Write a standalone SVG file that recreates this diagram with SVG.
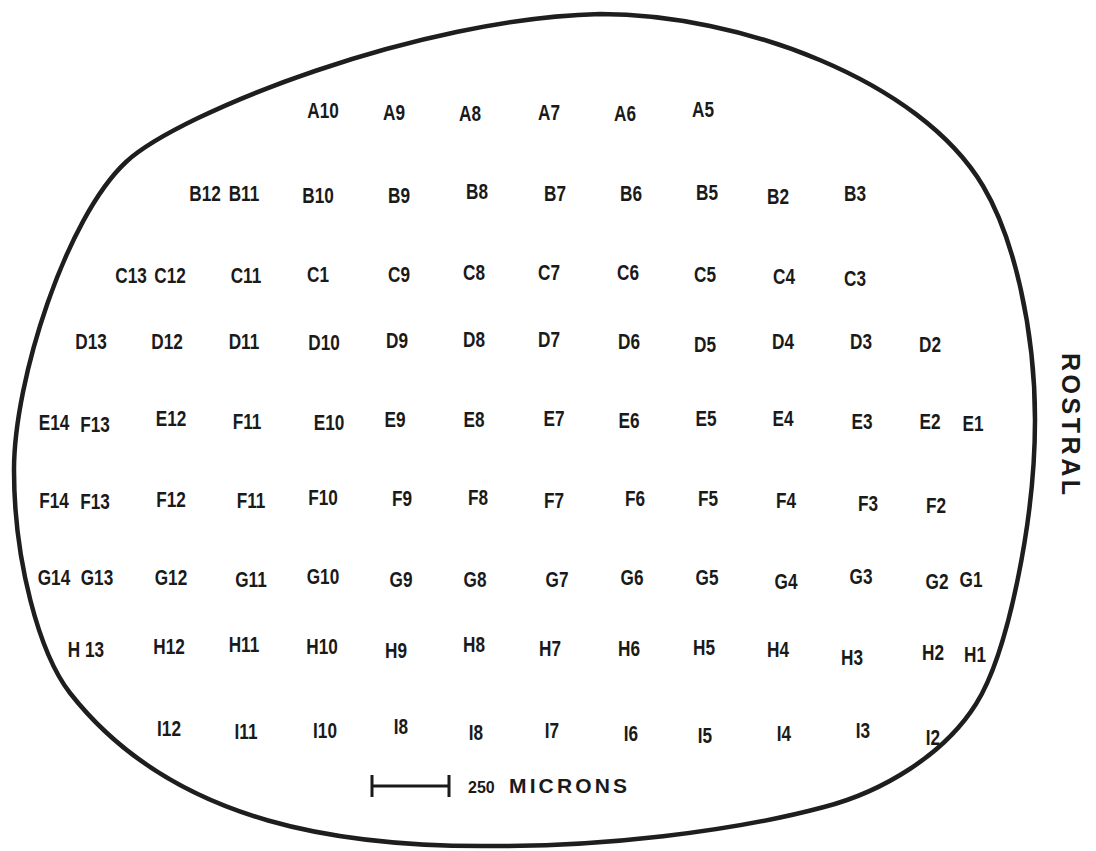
<svg xmlns="http://www.w3.org/2000/svg" width="1096" height="851" viewBox="0 0 1096 851">
<style>
.bg{fill:#fff}
.outline{fill:none;stroke:#1e1e1e;stroke-width:4.5;stroke-linejoin:round}
.lb{font-family:"Liberation Sans","DejaVu Sans",sans-serif;font-weight:bold;font-size:21.5px;fill:#1a1a1a;text-anchor:middle}
.bar{stroke:#1a1a1a;stroke-width:3;fill:none}
.cap{font-family:"Liberation Sans","DejaVu Sans",sans-serif;font-weight:bold;fill:#1a1a1a}
</style>
<rect class="bg" x="0" y="0" width="1096" height="851"/>
<g id="outline">
<path class="outline" d="M600,14 C740,14 920,80 983,186 C1014,238 1035,330 1035,420 C1035,520 1008,653 976,704 C944,755 882,792 824,807 C727,833 600,846 500,846 C350,848 175,827 70,693 C39,653 14,560 14,470 C14,380 66,218 126,162 C180,112 420,18 600,14 Z"/>
</g>
<g id="row-A" class="lb" transform="scale(0.8,1)">
<text x="403.75" y="118">A10</text><text x="492.5" y="120">A9</text><text x="587.5" y="121">A8</text><text x="686.25" y="120">A7</text><text x="781.25" y="121">A6</text><text x="878.75" y="117">A5</text>
</g>
<g id="row-B" class="lb" transform="scale(0.8,1)">
<text x="256.25" y="201">B12</text><text x="305" y="201">B11</text><text x="397.5" y="203">B10</text><text x="498.75" y="203">B9</text><text x="596.25" y="199">B8</text><text x="693.75" y="201">B7</text><text x="788.75" y="201">B6</text><text x="883.75" y="200">B5</text><text x="972.5" y="204">B2</text><text x="1068.75" y="201">B3</text>
</g>
<g id="row-C" class="lb" transform="scale(0.8,1)">
<text x="163.75" y="283">C13</text><text x="212.5" y="283">C12</text><text x="307.5" y="283">C11</text><text x="397.5" y="282">C1</text><text x="498.75" y="282">C9</text><text x="592.5" y="280">C8</text><text x="686.25" y="280">C7</text><text x="785" y="280">C6</text><text x="881.25" y="282">C5</text><text x="980" y="284">C4</text><text x="1068.75" y="286">C3</text>
</g>
<g id="row-D" class="lb" transform="scale(0.8,1)">
<text x="113.75" y="349">D13</text><text x="208.75" y="349">D12</text><text x="305" y="349">D11</text><text x="405" y="350">D10</text><text x="496.25" y="348">D9</text><text x="592.5" y="347">D8</text><text x="686.25" y="347">D7</text><text x="786.25" y="349">D6</text><text x="881.25" y="352">D5</text><text x="978.75" y="349">D4</text><text x="1076.25" y="349">D3</text><text x="1162.5" y="352">D2</text>
</g>
<g id="row-E" class="lb" transform="scale(0.8,1)">
<text x="67.5" y="430">E14</text><text x="118.75" y="432">F13</text><text x="213.75" y="426">E12</text><text x="308.75" y="429">F11</text><text x="411.25" y="430">E10</text><text x="493.75" y="427">E9</text><text x="592.5" y="427">E8</text><text x="692.5" y="426">E7</text><text x="786.25" y="428">E6</text><text x="882.5" y="426">E5</text><text x="978.75" y="426">E4</text><text x="1077.5" y="429">E3</text><text x="1162.5" y="429">E2</text><text x="1216.25" y="431">E1</text>
</g>
<g id="row-F" class="lb" transform="scale(0.8,1)">
<text x="67.5" y="508">F14</text><text x="118.75" y="509">F13</text><text x="213.75" y="507">F12</text><text x="313.75" y="508">F11</text><text x="403.75" y="505">F10</text><text x="502.5" y="506">F9</text><text x="597.5" y="505">F8</text><text x="692.5" y="508">F7</text><text x="793.75" y="506">F6</text><text x="885" y="506">F5</text><text x="982.5" y="508">F4</text><text x="1085" y="511">F3</text><text x="1170" y="513">F2</text>
</g>
<g id="row-G" class="lb" transform="scale(0.8,1)">
<text x="67.5" y="585">G14</text><text x="121.25" y="585">G13</text><text x="213.75" y="585">G12</text><text x="313.75" y="587">G11</text><text x="403.75" y="584">G10</text><text x="501.25" y="587">G9</text><text x="593.75" y="587">G8</text><text x="696.25" y="587">G7</text><text x="790" y="585">G6</text><text x="883.75" y="585">G5</text><text x="982.5" y="589">G4</text><text x="1076.25" y="584">G3</text><text x="1171.25" y="589">G2</text><text x="1213.75" y="587">G1</text>
</g>
<g id="row-H" class="lb" transform="scale(0.8,1)">
<text x="107.5" y="657">H 13</text><text x="211.25" y="654">H12</text><text x="305" y="652">H11</text><text x="402.5" y="654">H10</text><text x="495" y="658">H9</text><text x="592.5" y="652">H8</text><text x="687.5" y="656">H7</text><text x="786.25" y="656">H6</text><text x="880" y="655">H5</text><text x="972.5" y="657">H4</text><text x="1065" y="665">H3</text><text x="1166.25" y="660">H2</text><text x="1218.75" y="662">H1</text>
</g>
<g id="row-I" class="lb" transform="scale(0.8,1)">
<text x="211.25" y="736">I12</text><text x="307.5" y="739">I11</text><text x="406.25" y="738">I10</text><text x="501.25" y="734">I8</text><text x="595" y="740">I8</text><text x="690" y="738">I7</text><text x="788.75" y="741">I6</text><text x="881.25" y="743">I5</text><text x="980" y="741">I4</text><text x="1078.75" y="738">I3</text><text x="1166.25" y="745">I2</text>
</g>
<g id="scale-bar">
<path class="bar" d="M372,775 V797 M449,775 V797 M372,786 H449"/>
<text class="cap" x="468" y="793" font-size="16">250</text>
<text class="cap" x="509" y="793" font-size="21" textLength="118" lengthAdjust="spacing">MICRONS</text>
</g>
<g id="rostral-label">
<text class="cap" x="0" y="0" font-size="25" text-anchor="middle" textLength="142" lengthAdjust="spacing" transform="translate(1062,424) rotate(90)">ROSTRAL</text>
</g>
</svg>
